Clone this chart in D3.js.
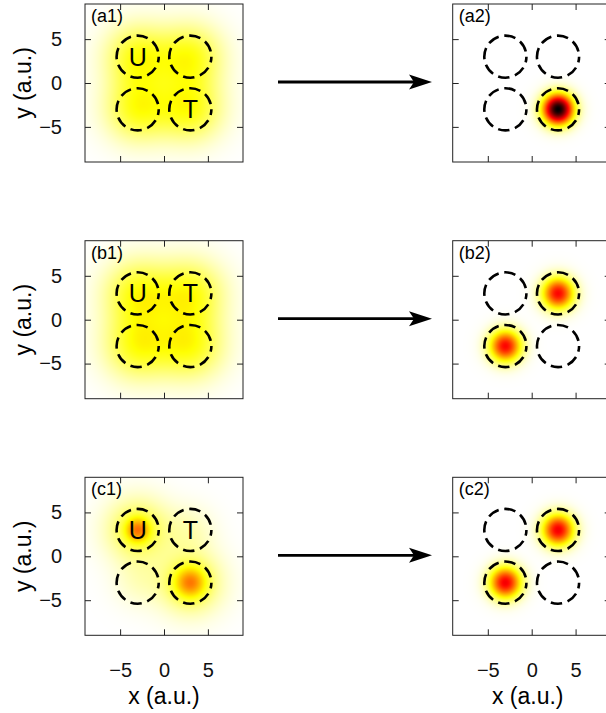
<!doctype html>
<html>
<head>
<meta charset="utf-8">
<script src="https://cdnjs.cloudflare.com/ajax/libs/d3/7.8.5/d3.min.js"></script>
<style>
  body { margin: 0; background: #fff; }
  svg { display: block; font-family: "Liberation Sans", Arial, Helvetica, sans-serif; }
</style>
</head>
<body>
<svg id="chart" width="606" height="713"></svg>
<script>
// axis ticks and well positions (a.u.)
var ticks = [-5, 0, 5];
var wells = [[-3, 3], [3, 3], [-3, -3], [3, -3]];
var wellRadius = 2.4;

// panel names, row by row
var panelNames = ["(a1)", "(a2)", "(b1)", "(b2)", "(c1)", "(c2)"];
// which well carries U and T in each row
var labelU = [0, 0, 0];
var labelT = [3, 1, 1];

// gaussian blobs per panel: [x, y, amplitude, sigma]
var blobsA1 = [[-3, 3, 0.22, 2.6], [3, 3, 0.22, 2.6], [-3, -3, 0.22, 2.6], [3, -3, 0.22, 2.6]];
var blobsA2 = [[3, -3, 1.0, 1.2]];
var blobsB1 = [[-3, 3, 0.22, 2.7], [3, 3, 0.22, 2.7], [-3, -3, 0.22, 2.7], [3, -3, 0.22, 2.7]];
var blobsB2 = [[3, 3, 0.62, 1.25], [-3, -3, 0.62, 1.25]];
var blobsC1 = [[-3, 3, 0.2, 2.5], [-3, 3, 0.26, 0.95], [3, -3, 0.2, 2.5], [3, -3, 0.25, 1.2],
               [-3, -3, 0.05, 2.0], [3, 3, 0.06, 2.0]];
var blobsC2 = [[3, 3, 0.64, 1.25], [-3, -3, 0.64, 1.25]];
var panelBlobs = [blobsA1, blobsA2, blobsB1, blobsB2, blobsC1, blobsC2];

var svg = d3.select("#chart");
var size = 158;
var colX = [85, 452.7];
var rowY = [4, 240.7, 477.3];

var xs = d3.scaleLinear().domain([-9, 9]).range([0, size]);
var ys = d3.scaleLinear().domain([-9, 9]).range([size, 0]);

// reversed "hot" colormap
var cmap = d3.scaleLinear()
    .domain([0, 0.25, 0.625, 1])
    .range(["#ffffff", "#ffff00", "#ff0000", "#000000"])
    .clamp(true);

function density(blobs, x, y) {
    var v = 0;
    blobs.forEach(function (b) {
        var dx = x - b[0], dy = y - b[1];
        v += b[2] * Math.exp(-(dx * dx + dy * dy) / (2 * b[3] * b[3]));
    });
    return v;
}

function heatmap(blobs) {
    var n = size * 2;
    var canvas = document.createElement("canvas");
    canvas.width = n;
    canvas.height = n;
    var ctx = canvas.getContext("2d");
    var img = ctx.createImageData(n, n);
    for (var j = 0; j < n; j++) {
        for (var i = 0; i < n; i++) {
            var c = d3.rgb(cmap(density(blobs, xs.invert((i + 0.5) / 2), ys.invert((j + 0.5) / 2))));
            var k = (j * n + i) * 4;
            img.data[k] = c.r;
            img.data[k + 1] = c.g;
            img.data[k + 2] = c.b;
            img.data[k + 3] = 255;
        }
    }
    ctx.putImageData(img, 0, 0);
    return canvas.toDataURL();
}

panelNames.forEach(function (name, p) {
    var row = Math.floor(p / 2), col = p % 2;
    var g = svg.append("g").attr("transform", "translate(" + colX[col] + "," + rowY[row] + ")");

    g.append("image")
        .attr("width", size).attr("height", size)
        .attr("preserveAspectRatio", "none")
        .attr("href", heatmap(panelBlobs[p]));

    // axes with inward ticks on all four sides
    var left = d3.axisLeft(ys).tickValues(ticks).tickSize(-6).tickPadding(23);
    var bottom = d3.axisBottom(xs).tickValues(ticks).tickSize(-6).tickPadding(28);
    if (col != 0) left.tickFormat("");
    if (row != 2) bottom.tickFormat("");
    g.append("g").call(left);
    g.append("g").attr("transform", "translate(0," + size + ")").call(bottom);
    g.append("g").call(d3.axisTop(xs).tickValues(ticks).tickSize(-6).tickFormat(""));
    g.append("g").attr("transform", "translate(" + size + ",0)")
        .call(d3.axisRight(ys).tickValues(ticks).tickSize(-6).tickFormat(""));
    g.selectAll(".domain").remove();
    g.selectAll(".tick line").attr("stroke", "#222");
    g.selectAll(".tick text").attr("font-size", 20).attr("fill", "#111")
        .attr("font-family", "Liberation Sans, Arial, sans-serif");
    g.append("rect").attr("width", size).attr("height", size)
        .attr("fill", "none").attr("stroke", "#222").attr("stroke-width", 1);

    // dashed wells
    g.selectAll("circle.well").data(wells).enter().append("circle")
        .attr("class", "well")
        .attr("cx", function (d) { return xs(d[0]); })
        .attr("cy", function (d) { return ys(d[1]); })
        .attr("r", xs(wellRadius) - xs(0))
        .attr("fill", "none").attr("stroke", "#000")
        .attr("stroke-width", 2.6).attr("stroke-dasharray", "11.5,5.7")
        .attr("stroke-dashoffset", 5.7);

    if (col == 0) {
        [["U", labelU[row]], ["T", labelT[row]]].forEach(function (l) {
            var w = wells[l[1]];
            g.append("text")
                .attr("x", xs(w[0])).attr("y", ys(w[1]) + 9)
                .attr("text-anchor", "middle").attr("font-size", 25)
                .text(l[0]);
        });
    }

    g.append("text").attr("x", 6).attr("y", 18).attr("font-size", 18).text(name);

    if (col == 0) {
        svg.append("text")
            .attr("transform", "translate(31," + (rowY[row] + ys(0)) + ") rotate(-90)")
            .attr("text-anchor", "middle").attr("font-size", 23)
            .text("y (a.u.)");
    }
    if (row == 2) {
        svg.append("text")
            .attr("x", colX[col] + xs(0) - col * 4).attr("y", 704)
            .attr("text-anchor", "middle").attr("font-size", 23)
            .text("x (a.u.)");
    }
});

// arrows between columns
rowY.forEach(function (top) {
    var y = top + ys(0) - 1;
    svg.append("line")
        .attr("x1", 278).attr("x2", 418).attr("y1", y).attr("y2", y)
        .attr("stroke", "#000").attr("stroke-width", 2.8);
    svg.append("path")
        .attr("d", "M432," + y + " L409," + (y - 7.5) + " L414," + y + " L409," + (y + 7.5) + " Z")
        .attr("fill", "#000");
});
</script>
</body>
</html>
